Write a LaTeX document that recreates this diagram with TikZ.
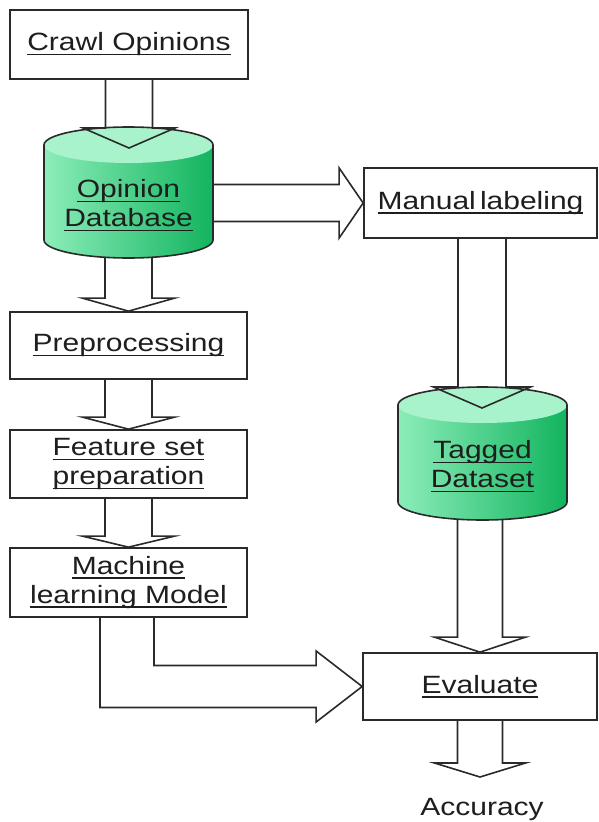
\documentclass[tikz,border=0pt]{standalone}
\usepackage{fontspec}
\setmainfont[FakeStretch=1.2]{Liberation Sans}
\usetikzlibrary{calc}
\definecolor{ln}{HTML}{2A2A2A}
\definecolor{tx}{HTML}{1E1E1E}
\definecolor{gtop}{HTML}{A9F3CC}
\definecolor{gl}{HTML}{8CEDB9}
\definecolor{gm}{HTML}{4ADB8E}
\definecolor{gr}{HTML}{12B45F}
\newcommand\ulx[1]{\setbox0\hbox{#1}\rlap{\rule[-4.5pt]{\wd0}{1.5pt}}\box0}
\newcommand\cylshape[4]{%
  \shade[left color=gl, middle color=gm, right color=gr]
    (#1-#4,#2) -- (#1-#4,#3) arc[start angle=180,end angle=0,x radius=#4,y radius=18]
    -- (#1+#4,#2) arc[start angle=0,end angle=-180,x radius=#4,y radius=18] -- cycle;
  \fill[gtop] (#1,#2) ellipse[x radius=#4, y radius=18];
  \draw[ln, line width=1.6pt]
    (#1-#4,#2) -- (#1-#4,#3) arc[start angle=180,end angle=0,x radius=#4,y radius=18]
    -- (#1+#4,#2) arc[start angle=0,end angle=-180,x radius=#4,y radius=18] -- cycle;}
\newcommand\bdn[5]{%
  \draw[blk] let \p1=(#1), \p2=(#2) in
    (\x2-#3,\y1) -- (\x2-#3,\y2+#5) -- (\x2-#4,\y2+#5) -- (\p2)
    -- (\x2+#4,\y2+#5) -- (\x2+#3,\y2+#5) -- (\x2+#3,\y1);}
\begin{document}
\begin{tikzpicture}[x=1pt,y=-1pt,
  box/.style={draw=ln, line width=1.7pt, fill=white, inner sep=0pt, text=tx,
    font=\fontsize{25}{29}\selectfont, align=center},
  lbl/.style={inner sep=0pt, text=tx, font=\fontsize{25}{29}\selectfont, align=center},
  blk/.style={draw=ln, line width=1.6pt, line join=miter},
  cylnode/.style={inner sep=0pt}]
\useasboundingbox (0,0) rectangle (598,822);

% cylinders (drawn shapes)
\cylshape{128.5}{145}{240}{84.5}
\cylshape{482.5}{405}{502}{84.5}
\node[cylnode, minimum width=169pt, minimum height=131pt] (odb) at (128.5,192.5) {};
\node[cylnode, minimum width=169pt, minimum height=133pt] (tag) at (482.5,453.5) {};
\node[lbl] (odbt) at (128.5,205.5) {\ulx{Opinion}\\\ulx{Database}};
\node[lbl] (tagt) at (482.5,466.5) {\ulx{Tagged}\\\ulx{Dataset}};

% boxes
\node[box, minimum width=238pt, minimum height=69pt] (crawl) at (129,44.5) {\ulx{Crawl Opinions}};
\node[box, minimum width=237pt, minimum height=67pt] (pre) at (128.5,345.5) {\ulx{Preprocessing}};
\node[box, minimum width=237pt, minimum height=68pt] (feat) at (128.5,464) {\ulx{Feature set}\\\ulx{preparation}};
\node[box, minimum width=237pt, minimum height=69pt] (mach) at (128.5,582.5) {\ulx{Machine}\\\ulx{learning Model}};
\node[box, minimum width=233pt, minimum height=70pt] (manual) at (480.5,203) {\ulx{Manual\,labeling}};
\node[box, minimum width=234pt, minimum height=67pt] (eval) at (480,686.5) {\ulx{Evaluate}};
\node[lbl] (acc) at (482,809) {Accuracy};

\coordinate (odbtip) at (129,148);
\coordinate (tagtip) at (482,408);
\coordinate (acctip) at (480,777);

% block arrows
\bdn{crawl.south}{odbtip}{23.5pt}{46pt}{20pt}
\bdn{odb.south}{pre.north}{23.5pt}{46pt}{13pt}
\bdn{pre.south}{feat.north}{23.5pt}{46pt}{12pt}
\bdn{feat.south}{mach.north}{23.5pt}{46pt}{11pt}
\bdn{manual.south}{tagtip}{24pt}{48.5pt}{21pt}
\bdn{tag.south}{eval.north}{22.5pt}{45.5pt}{15pt}
\bdn{eval.south}{acctip}{22.5pt}{45.5pt}{14pt}

\draw[blk] let \p1=(odb.east), \p2=(manual.west) in
  (\x1,\y2+18.5pt) -- (\x2-24pt,\y2+18.5pt) -- (\x2-24pt,\y2+35pt) -- (\p2)
  -- (\x2-24pt,\y2-35pt) -- (\x2-24pt,\y2-18.5pt) -- (\x1,\y2-18.5pt);

\draw[blk] let \p1=(mach.south), \p2=(eval.west) in
  (\x1-28.5pt,\y1) |- (\x2-46pt,\y2-21pt) -- (\x2-46pt,\y2-35.5pt) -- (\p2)
  -- (\x2-46pt,\y2+35.5pt) -- (\x2-46pt,\y2+21pt) -| (\x1+25.5pt,\y1);
\end{tikzpicture}
\end{document}
